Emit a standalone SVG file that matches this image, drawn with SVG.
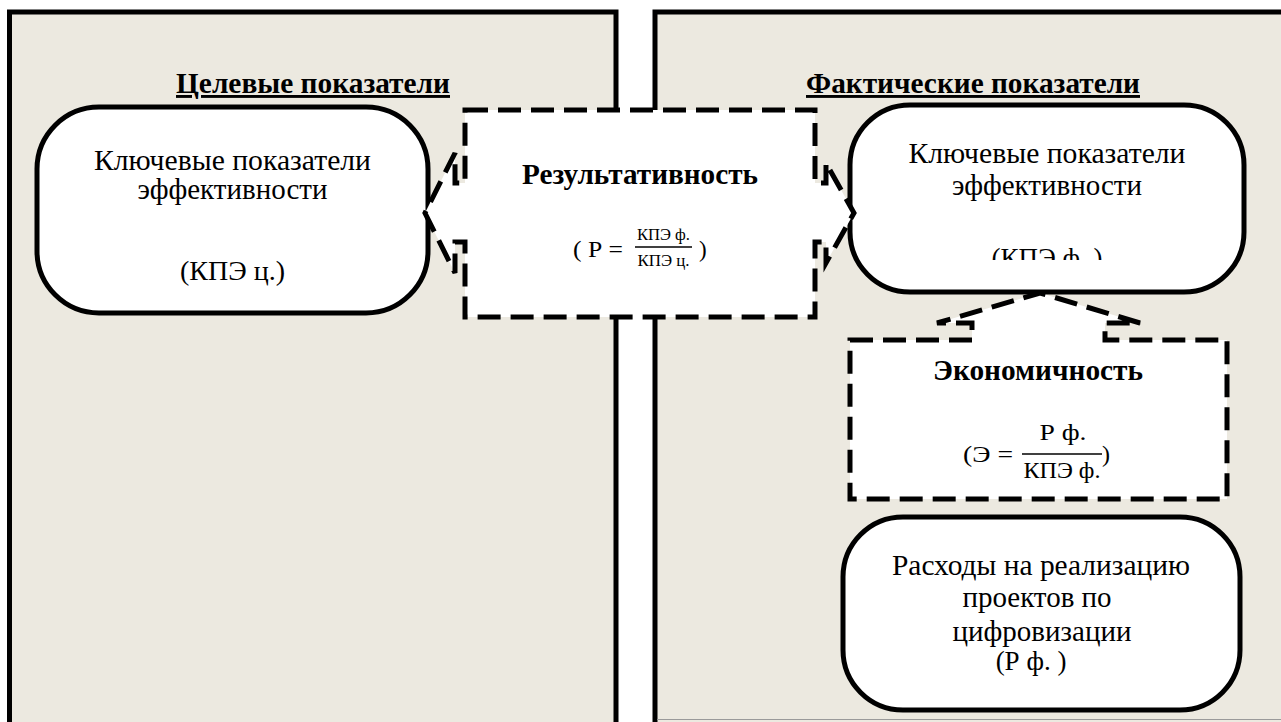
<svg xmlns="http://www.w3.org/2000/svg" width="1281" height="722" viewBox="0 0 1281 722">
<defs>
<style>
.panel{fill:#ECE9E0;stroke:#000;stroke-width:5}
.node{fill:#fff;stroke:#000;stroke-width:5}
.callout{fill:#fff;stroke:#000;stroke-width:5;stroke-dasharray:23 10;stroke-linejoin:miter}
.frac{stroke:#000;stroke-width:1.5}
.ser{font-family:'Liberation Serif',serif}
</style>
<clipPath id="clipKpiF"><rect x="850" y="105" width="394" height="155"/></clipPath>
</defs>
<rect width="1281" height="722" fill="#fff"/>

<g id="panel-target">
<rect class="panel" x="9.5" y="12" width="606.5" height="760"/>
<text class="ser" font-size="29" font-weight="bold" text-decoration="underline" x="313" y="93" text-anchor="middle" textLength="274" lengthAdjust="spacingAndGlyphs">Целевые показатели</text>
</g>

<g id="panel-actual">
<rect class="panel" x="655" y="12" width="700" height="760"/>
<line x1="657" y1="719.5" x2="1281" y2="719.5" stroke="#9a9a9a" stroke-width="1"/>
<text class="ser" font-size="29" font-weight="bold" text-decoration="underline" x="973" y="93" text-anchor="middle" textLength="334" lengthAdjust="spacingAndGlyphs">Фактические показатели</text>
</g>

<g id="node-kpi-target">
<rect class="node" x="37" y="107" width="391" height="206" rx="62" ry="62"/>
<text class="ser" font-size="29" x="232.5" y="170" text-anchor="middle" textLength="277" lengthAdjust="spacingAndGlyphs">Ключевые показатели</text>
<text class="ser" font-size="29" x="232.5" y="199" text-anchor="middle">эффективности</text>
<text class="ser" font-size="28" x="232.5" y="280" text-anchor="middle">(КПЭ ц.)</text>
</g>

<g id="node-kpi-actual">
<rect class="node" x="850" y="105" width="394" height="187" rx="60" ry="60"/>
<text class="ser" font-size="29" x="1047" y="163" text-anchor="middle" textLength="277" lengthAdjust="spacingAndGlyphs">Ключевые показатели</text>
<text class="ser" font-size="29" x="1047" y="195" text-anchor="middle">эффективности</text>
<g clip-path="url(#clipKpiF)"><text class="ser" font-size="27" x="1047" y="267" text-anchor="middle">(КПЭ ф. )</text></g>
</g>

<g id="node-costs">
<rect class="node" x="843" y="517" width="397" height="193" rx="60" ry="60"/>
<text class="ser" font-size="29" x="1041" y="575" text-anchor="middle" textLength="298" lengthAdjust="spacingAndGlyphs">Расходы на реализацию</text>
<text class="ser" font-size="29" x="1037" y="607" text-anchor="middle">проектов по</text>
<text class="ser" font-size="29" x="1042" y="641" text-anchor="middle">цифровизации</text>
<text class="ser" font-size="27" x="1031" y="670" text-anchor="middle">(Р ф. )</text>
</g>

<g id="node-effectiveness">
<path class="callout" d="M465,110 H815 V183 H826 V163 L854,213 L826,263 V242 H815 V317 H465 V242 H455 V273 L425,213 L455,153 V183 H465 Z"/>
<text class="ser" font-size="29" font-weight="bold" x="640" y="184" text-anchor="middle" textLength="236" lengthAdjust="spacingAndGlyphs">Результативность</text>
<text class="ser" font-size="23" x="573" y="257" textLength="50" lengthAdjust="spacingAndGlyphs">( Р =</text>
<text class="ser" font-size="16" x="663.5" y="240" text-anchor="middle" textLength="53" lengthAdjust="spacingAndGlyphs">КПЭ ф.</text>
<line class="frac" x1="635" y1="247" x2="692" y2="247"/>
<text class="ser" font-size="16" x="663.5" y="266" text-anchor="middle" textLength="52" lengthAdjust="spacingAndGlyphs">КПЭ ц.</text>
<text class="ser" font-size="23" x="699" y="257">)</text>
</g>

<g id="node-economy">
<path class="callout" d="M850,340 H972 V323 H937 L1040,293 L1140,323 H1105 V340 H1227 V499 H850 Z"/>
<text class="ser" font-size="29" font-weight="bold" x="1038" y="380" text-anchor="middle" textLength="210" lengthAdjust="spacingAndGlyphs">Экономичность</text>
<text class="ser" font-size="24" x="963" y="462" textLength="50" lengthAdjust="spacingAndGlyphs">(Э =</text>
<text class="ser" font-size="24" x="1063" y="440" text-anchor="middle" textLength="47" lengthAdjust="spacingAndGlyphs">Р ф.</text>
<line class="frac" x1="1022" y1="454" x2="1102" y2="454"/>
<text class="ser" font-size="24" x="1062" y="478" text-anchor="middle" textLength="77" lengthAdjust="spacingAndGlyphs">КПЭ ф.</text>
<text class="ser" font-size="24" x="1102" y="462">)</text>
</g>

<g id="connectors"/>
</svg>
